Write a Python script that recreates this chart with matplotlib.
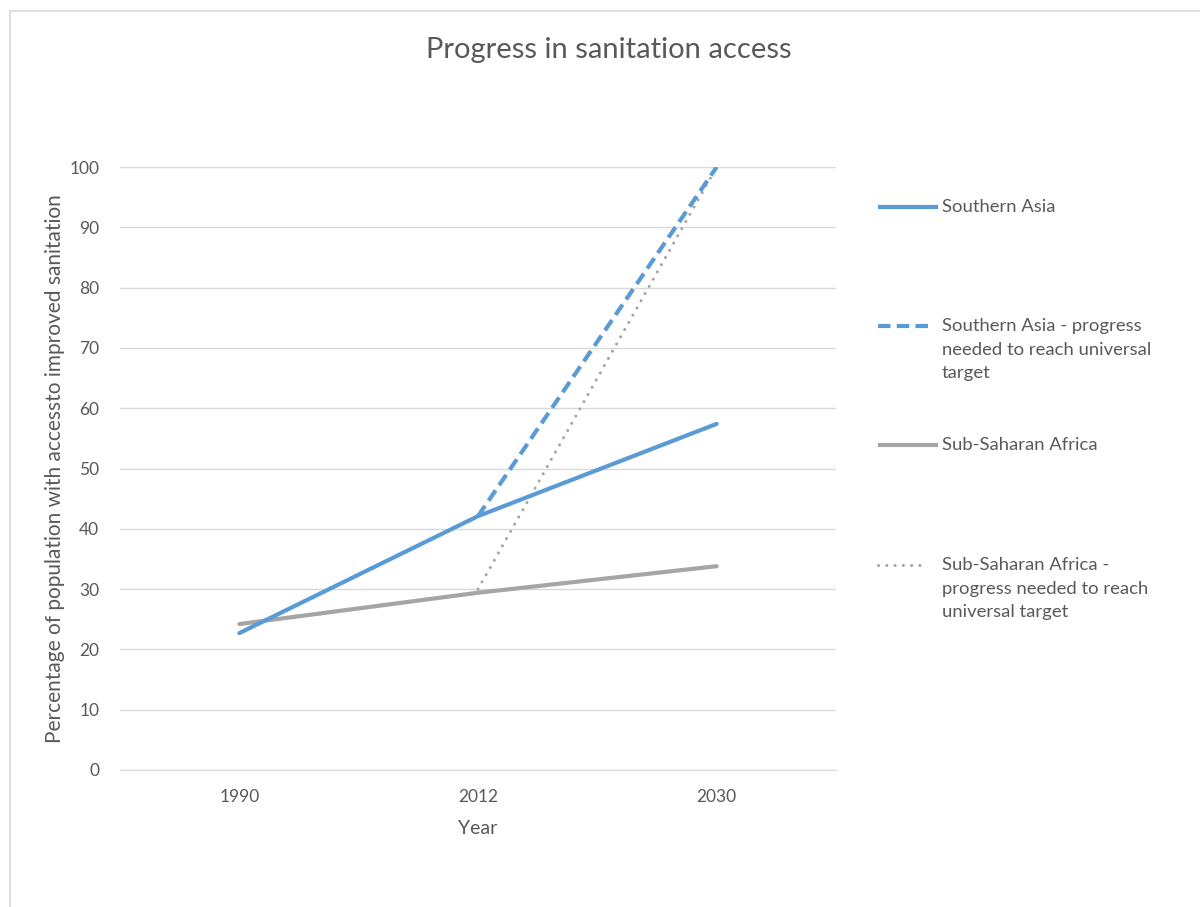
import matplotlib
matplotlib.use("Agg")
import matplotlib.pyplot as plt
from matplotlib.lines import Line2D
from matplotlib.patches import Rectangle

plt.rcParams['font.family'] = ['Lato', 'DejaVu Sans']

# data
years = ['1990', '2012', '2030']
southern_asia = [22.7, 42.1, 57.4]
sub_saharan = [24.2, 29.4, 33.8]
sa_target_years = ['2012', '2030']
sa_target = [42.1, 100]
ssa_target_years = ['2012', '2030']
ssa_target = [30.0, 100]
y_ticks = list(range(0, 101, 10))

blue = '#5B9BD5'
gray = '#A5A5A5'
text_col = '#595959'
grid_col = '#D9D9D9'

fig = plt.figure(figsize=(12, 9.07), dpi=100)
W, H = 1200, 907

# outer chart border (light gray)
fig.patches.append(Rectangle((10 / W, -0.1), 1.2, 1 - 11 / H + 0.1,
                             transform=fig.transFigure, fill=False,
                             edgecolor=grid_col, linewidth=1.2))

ax = fig.add_axes([120 / W, 1 - 770 / H, (836 - 120) / W, (770 - 167) / H])

xi = {y: i for i, y in enumerate(years)}

# series: (x, y, label, color, lw, linestyle, zorder)
series = [
    ([xi[y] for y in years], southern_asia, 'Southern Asia', blue, 3, '-', 3),
    ([xi[y] for y in sa_target_years], sa_target,
     'Southern Asia - progress\nneeded to reach universal\ntarget', blue, 3, (0, (3, 1.5)), 3),
    ([xi[y] for y in years], sub_saharan, 'Sub-Saharan Africa', gray, 3, '-', 2),
    ([xi[y] for y in ssa_target_years], ssa_target,
     'Sub-Saharan Africa -\nprogress needed to reach\nuniversal target', gray, 2.2, (0, (0.01, 2.7)), 2),
]

for x, y, lab, c, lw, ls, z in series:
    ax.plot(x, y, color=c, lw=lw, linestyle=ls, solid_capstyle='round',
            dash_capstyle='round' if lw < 3 else 'butt', zorder=z)

ax.set_xlim(-0.5, 2.5)
ax.set_ylim(0, 100)
ax.set_xticks(range(len(years)))
ax.set_xticklabels(years)
ax.set_yticks(y_ticks)
ax.yaxis.grid(True, color=grid_col, lw=1)
ax.set_axisbelow(True)
for s in ['top', 'right', 'left']:
    ax.spines[s].set_visible(False)
ax.spines['bottom'].set_color(grid_col)
ax.tick_params(axis='both', length=0, colors=text_col, labelsize=12.5)
ax.tick_params(axis='y', pad=15)
ax.tick_params(axis='x', pad=14)

ax.set_xlabel('Year', fontsize=14, color=text_col, va='center')
ax.xaxis.set_label_coords(0.5, (770 - 829) / 603)
ax.set_ylabel('Percentage of population with accessto improved sanitation',
              fontsize=15, color=text_col, va='center')
ax.yaxis.set_label_coords((55 - 120) / 716, 0.5)

fig.text(609 / W, 1 - 50 / H, 'Progress in sanitation access', fontsize=21,
         color=text_col, ha='center', va='center')

# legend drawn by hand so the handle sits on the first text line
leg_y = [207, 326, 445, 565]
leg_end = [938, 930, 938, 922]
for (x, y, lab, c, lw, ls, z), yy, xe in zip(series, leg_y, leg_end):
    fy = 1 - yy / H
    ln = Line2D([878 / W, xe / W], [fy, fy], transform=fig.transFigure,
                color=c, lw=lw, linestyle=ls, solid_capstyle='butt',
                dash_capstyle='round' if lw < 3 else 'butt')
    fig.lines.append(ln)
    fig.text(942 / W, fy + 8 / H, lab, fontsize=13.3, color=text_col, ha='left', va='top',
             linespacing=1.58)

fig.savefig('out.png', dpi=100)
